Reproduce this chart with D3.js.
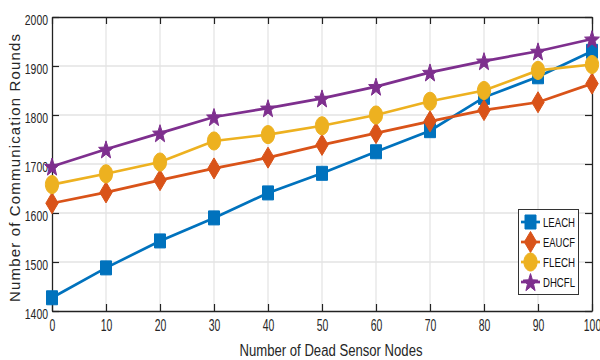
<!DOCTYPE html>
<html><head><meta charset="utf-8">
<script src="https://cdn.jsdelivr.net/npm/d3@7/dist/d3.min.js"></script>
<style>body{margin:0;background:#fff}svg{display:block}</style>
</head><body><svg id="c" width="600" height="360"></svg>
<script>
const xValues = [0,10,20,30,40,50,60,70,80,90,100];
const leach = [1427,1488,1543,1590,1641,1681,1725,1768,1836,1878,1930];
const eaucf = [1620,1642,1667,1691,1713,1739,1763,1787,1810,1826,1864];
const flech = [1658,1680,1704,1747,1760,1778,1800,1828,1850,1891,1903];
const dhcfl = [1695,1730,1763,1796,1814,1834,1858,1887,1910,1930,1955];
const seriesNames = ["LEACH","EAUCF","FLECH","DHCFL"];
const seriesColors = ["#0072BD","#D95319","#EDB120","#7E2F8E"];
const xTicks = [0,10,20,30,40,50,60,70,80,90,100];
const yTicks = [1400,1500,1600,1700,1800,1900,2000];
const xLabel = "Number of Dead Sensor Nodes";
const yLabel = "Number of Communication Rounds";

const series = [leach,eaucf,flech,dhcfl].map((v,i)=>({name:seriesNames[i],color:seriesColors[i],values:v}));

const svg = d3.select("#c");
const L=52,R=592,T=17,B=311;
const x = d3.scaleLinear().domain([0,100]).range([L,R]);
const y = d3.scaleLinear().domain([1400,2000]).range([B,T]);
const FONT = "'Liberation Sans', Arial, sans-serif";

function narrow(sel, perChar){
  sel.each(function(){
    const t=d3.select(this); const s=t.text();
    t.attr("textLength", s.length*perChar).attr("lengthAdjust","spacingAndGlyphs");
  });
}

// grid
const g = svg.append("g");
g.selectAll(".gx").data(xTicks.slice(1,-1)).join("line")
  .attr("x1",d=>x(d)).attr("x2",d=>x(d)).attr("y1",T).attr("y2",B)
  .attr("stroke","#e3e3e3").attr("stroke-width",1.2);
g.selectAll(".gy").data(yTicks.slice(1,-1)).join("line")
  .attr("y1",d=>y(d)).attr("y2",d=>y(d)).attr("x1",L).attr("x2",R)
  .attr("stroke","#e3e3e3").attr("stroke-width",1.5);

// axes via d3
const xAxis = svg.append("g").attr("transform",`translate(0,${B})`)
  .call(d3.axisBottom(x).tickValues(xTicks).tickSize(-7).tickPadding(12).tickSizeOuter(0).tickFormat(d3.format("d")));
const yAxis = svg.append("g").attr("transform",`translate(${L},0)`)
  .call(d3.axisLeft(y).tickValues(yTicks).tickSize(-7).tickPadding(4).tickSizeOuter(0).tickFormat(d3.format("d")));
const xTop = svg.append("g").attr("transform",`translate(0,${T})`)
  .call(d3.axisTop(x).tickValues(xTicks).tickSize(-7).tickFormat("").tickSizeOuter(0));
const yRight = svg.append("g").attr("transform",`translate(${R},0)`)
  .call(d3.axisRight(y).tickValues(yTicks).tickSize(-7).tickFormat("").tickSizeOuter(0));
[xAxis,yAxis,xTop,yRight].forEach(a=>{
  a.select(".domain").attr("stroke","#222").attr("stroke-width",1.3);
  a.selectAll(".tick line").attr("stroke","#222").attr("stroke-width",1.2);
});
xAxis.selectAll(".tick text").attr("font-family",FONT).attr("font-size",16).attr("fill","#262626").attr("dy","0.5em").call(narrow,5.8);
yAxis.selectAll(".tick text").attr("font-family",FONT).attr("font-size",14).attr("fill","#262626").attr("dy","0.5em").call(narrow,5.8);

// lines
const line = d3.line().x((d,i)=>x(xValues[i])).y(d=>y(d));
series.forEach(s=>{
  svg.append("path").datum(s.values).attr("d",line)
    .attr("fill","none").attr("stroke",s.color).attr("stroke-width",2.7);
});

// marker shapes
function markerPath(name){
  if(name==="LEACH") return "M-5.5,-7L5.5,-7L5.5,7L-5.5,7Z";
  if(name==="EAUCF") return "M0,-10.5L6.2,0L0,10.5L-6.2,0Z";
  if(name==="FLECH"){const p=[];for(let k=0;k<=40;k++){const a=k/40*2*Math.PI;p.push([6.6*Math.cos(a),9*Math.sin(a)]);}return "M"+p.map(q=>q.join(",")).join("L")+"Z";}
  const pts=[];for(let k=0;k<10;k++){const a=-Math.PI/2+k*Math.PI/5;const r=k%2?3.4:8.2;pts.push([r*Math.cos(a)*0.95,r*Math.sin(a)*1.15+1]);}
  return "M"+pts.map(q=>q.join(",")).join("L")+"Z";
}
series.forEach(s=>{
  svg.append("g").selectAll("path").data(s.values).join("path")
    .attr("transform",(d,i)=>`translate(${x(xValues[i])},${y(d)})`)
    .attr("d",markerPath(s.name)).attr("fill",s.color).attr("stroke",s.color).attr("stroke-width",1);
});

// axis labels
svg.append("text").attr("x",331).attr("y",356).attr("text-anchor","middle")
  .attr("font-family",FONT).attr("font-size",16).attr("fill","#262626").text(xLabel)
  .attr("textLength",183).attr("lengthAdjust","spacingAndGlyphs");
svg.append("text").attr("transform",`translate(20,${(T+B)/2+4}) rotate(-90)`).attr("text-anchor","middle")
  .attr("font-family",FONT).attr("font-size",15).attr("fill","#262626").text(yLabel)
  .attr("textLength",268).attr("lengthAdjust","spacing");

// legend
const lg = svg.append("g");
lg.append("rect").attr("x",518.5).attr("y",209.5).attr("width",60).attr("height",85)
  .attr("fill","#fff").attr("stroke","#333").attr("stroke-width",1);
series.forEach((s,i)=>{
  const cy = 222+i*20;
  lg.append("line").attr("x1",521).attr("x2",540).attr("y1",cy).attr("y2",cy).attr("stroke",s.color).attr("stroke-width",2.7);
  lg.append("path").attr("transform",`translate(530.5,${cy})`).attr("d",markerPath(s.name)).attr("fill",s.color).attr("stroke",s.color);
  lg.append("text").attr("x",543).attr("y",cy+4.5).attr("font-family",FONT).attr("font-size",13)
    .attr("fill","#111").text(s.name).attr("textLength",32).attr("lengthAdjust","spacingAndGlyphs");
});
</script></body></html>
